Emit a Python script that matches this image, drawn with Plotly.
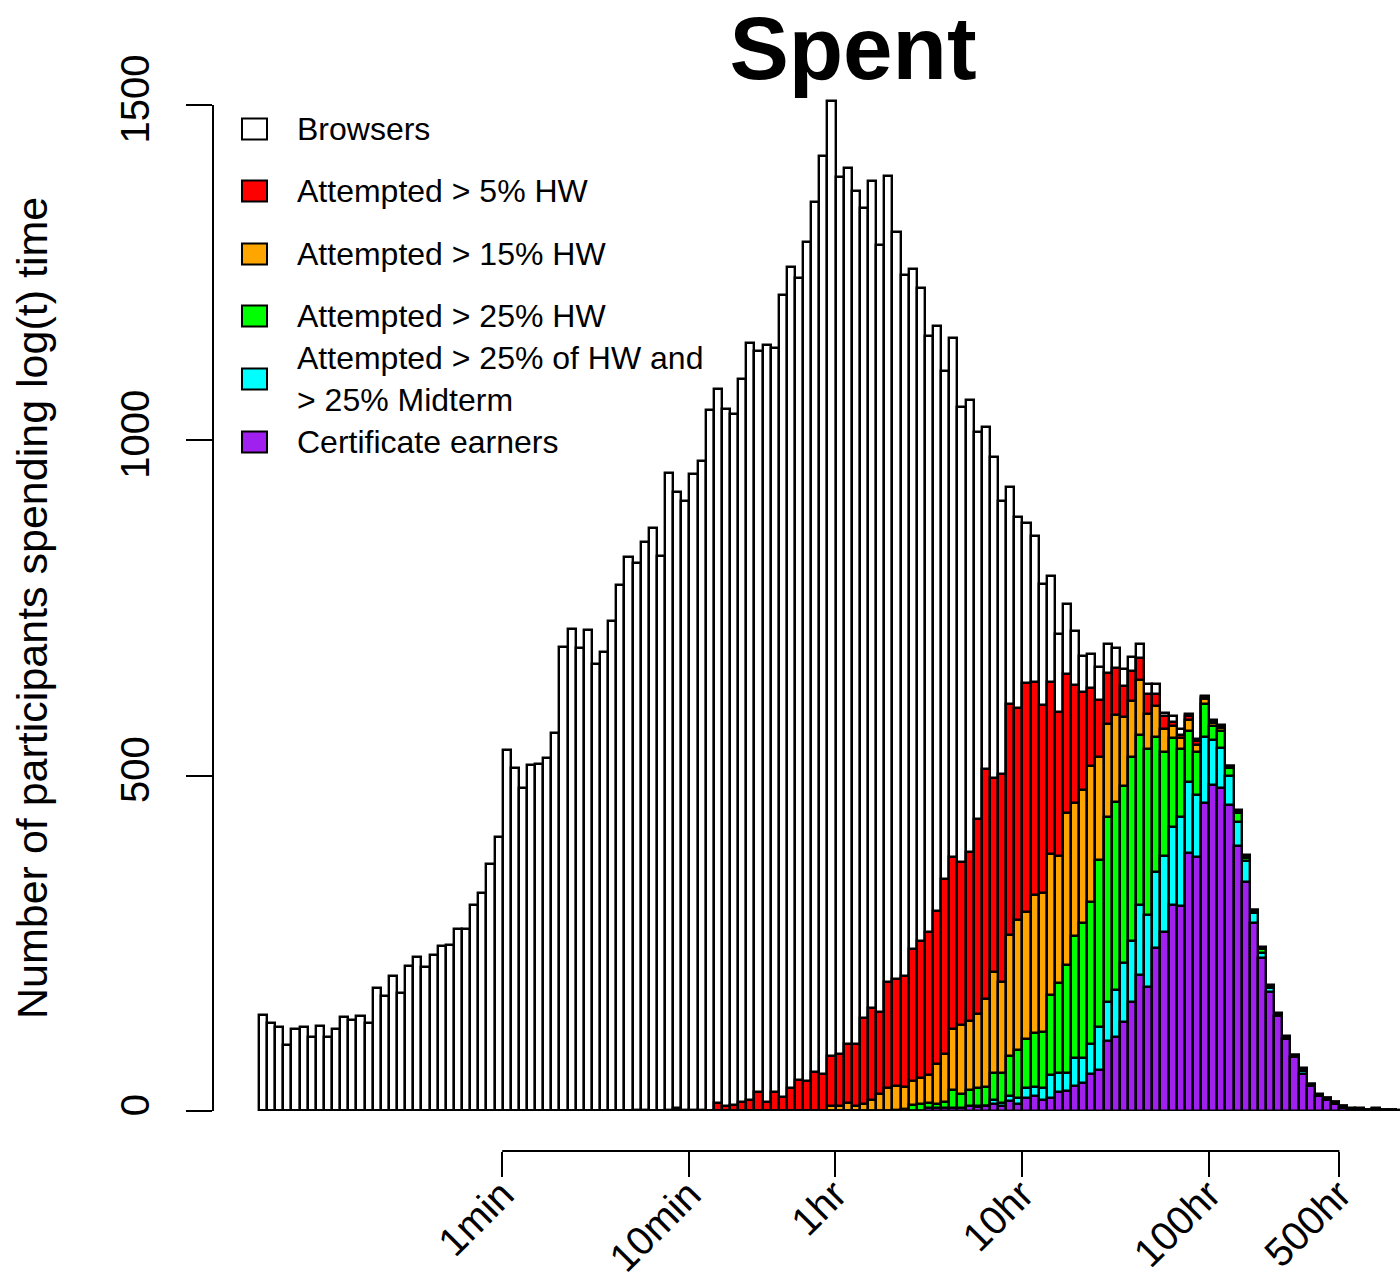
import numpy as np
import plotly.graph_objects as go

# Histogram of log(time spent): bins are 0.1 wide in natural-log seconds
bin_start = 1.1
bin_width = 0.1

browsers = [
    143, 131, 125, 99, 122, 126, 111, 127, 111, 123,
    140, 136, 142, 131, 184, 172, 201, 176, 216, 229,
    215, 232, 246, 247, 272, 272, 307, 325, 369, 408,
    538, 511, 482, 516, 518, 526, 564, 692, 719, 691,
    717, 666, 685, 731, 785, 826, 817, 849, 870, 828,
    951, 923, 910, 950, 969, 1045, 1077, 1047, 1040, 1092,
    1145, 1133, 1142, 1138, 1216, 1259, 1242, 1296, 1356, 1424,
    1506, 1392, 1406, 1372, 1346, 1386, 1291, 1394, 1310, 1247,
    1255, 1227, 1156, 1170, 1104, 1153, 1050, 1060, 1012, 1020,
    975, 909, 930, 886, 877, 858, 786, 798, 711, 756,
    715, 679, 682, 662, 696, 690, 659, 677, 697, 637,
    637, 594, 589, 569, 592, 554, 619, 583, 576, 515,
    449, 382, 300, 244, 188, 146, 112, 84, 64, 41,
    25, 20, 14, 8, 4, 4, 2, 4, 2, 2, 1,
]

hw5 = [
    0, 0, 0, 0, 0, 0, 0, 0, 0, 0,
    0, 0, 0, 0, 0, 0, 0, 0, 0, 0,
    0, 0, 0, 0, 0, 0, 0, 0, 0, 0,
    0, 0, 0, 0, 0, 0, 0, 0, 0, 0,
    0, 0, 0, 0, 0, 0, 1, 2, 0, 0,
    1, 4, 1, 1, 1, 0, 12, 7, 9, 14,
    16, 29, 13, 29, 21, 34, 46, 45, 58, 55,
    82, 85, 100, 100, 139, 153, 147, 192, 197, 202,
    241, 254, 267, 298, 346, 379, 372, 386, 435, 510,
    496, 503, 607, 601, 638, 640, 605, 639, 595, 652,
    635, 625, 630, 613, 653, 660, 634, 656, 676, 622,
    622, 589, 580, 561, 589, 551, 617, 581, 574, 514,
    447, 380, 299, 243, 187, 145, 111, 83, 63, 40,
    24, 19, 13, 7, 3, 3, 1, 3, 1, 1, 0,
]

hw15 = [
    0, 0, 0, 0, 0, 0, 0, 0, 0, 0,
    0, 0, 0, 0, 0, 0, 0, 0, 0, 0,
    0, 0, 0, 0, 0, 0, 0, 0, 0, 0,
    0, 0, 0, 0, 0, 0, 0, 0, 0, 0,
    0, 0, 0, 0, 0, 0, 0, 0, 0, 0,
    0, 0, 0, 0, 0, 0, 0, 0, 0, 0,
    0, 0, 0, 0, 0, 0, 0, 0, 0, 0,
    7, 7, 12, 7, 11, 17, 25, 35, 37, 36,
    45, 49, 53, 70, 85, 123, 128, 134, 144, 167,
    208, 192, 263, 285, 296, 322, 325, 383, 380, 444,
    459, 478, 514, 528, 577, 591, 588, 611, 643, 592,
    604, 569, 574, 556, 583, 545, 614, 579, 571, 513,
    446, 379, 298, 242, 186, 144, 110, 82, 62, 39,
    24, 19, 13, 7, 3, 3, 1, 3, 1, 1, 0,
]

hw25 = [
    0, 0, 0, 0, 0, 0, 0, 0, 0, 0,
    0, 0, 0, 0, 0, 0, 0, 0, 0, 0,
    0, 0, 0, 0, 0, 0, 0, 0, 0, 0,
    0, 0, 0, 0, 0, 0, 0, 0, 0, 0,
    0, 0, 0, 0, 0, 0, 0, 0, 0, 0,
    0, 0, 0, 0, 0, 0, 0, 0, 0, 0,
    0, 0, 0, 0, 0, 0, 0, 0, 0, 0,
    0, 0, 0, 0, 0, 0, 0, 0, 2, 3,
    9, 11, 12, 11, 14, 31, 25, 32, 35, 36,
    56, 57, 82, 91, 108, 117, 118, 173, 191, 218,
    261, 281, 311, 374, 439, 461, 485, 528, 561, 540,
    557, 536, 556, 540, 566, 536, 607, 574, 566, 511,
    444, 377, 297, 241, 186, 144, 110, 82, 62, 39,
    23, 18, 12, 6, 3, 3, 1, 3, 1, 1, 0,
]

hw25_midterm = [
    0, 0, 0, 0, 0, 0, 0, 0, 0, 0,
    0, 0, 0, 0, 0, 0, 0, 0, 0, 0,
    0, 0, 0, 0, 0, 0, 0, 0, 0, 0,
    0, 0, 0, 0, 0, 0, 0, 0, 0, 0,
    0, 0, 0, 0, 0, 0, 0, 0, 0, 0,
    0, 0, 0, 0, 0, 0, 0, 0, 0, 0,
    0, 0, 0, 0, 0, 0, 0, 0, 0, 0,
    0, 0, 0, 0, 0, 0, 0, 0, 0, 0,
    0, 0, 0, 0, 0, 0, 0, 5, 8, 8,
    17, 12, 22, 20, 34, 36, 35, 53, 56, 56,
    79, 79, 100, 126, 162, 181, 220, 254, 307, 292,
    357, 380, 424, 438, 491, 471, 558, 553, 542, 500,
    431, 373, 295, 236, 184, 143, 109, 81, 59, 38,
    23, 18, 12, 6, 3, 3, 1, 3, 1, 1, 0,
]

certificate = [
    0, 0, 0, 0, 0, 0, 0, 0, 0, 0,
    0, 0, 0, 0, 0, 0, 0, 0, 0, 0,
    0, 0, 0, 0, 0, 0, 0, 0, 0, 0,
    0, 0, 0, 0, 0, 0, 0, 0, 0, 0,
    0, 0, 0, 0, 0, 0, 0, 0, 0, 0,
    0, 0, 0, 0, 0, 0, 0, 0, 0, 0,
    0, 0, 0, 0, 0, 0, 0, 0, 0, 0,
    0, 0, 0, 0, 0, 0, 0, 0, 0, 0,
    0, 0, 5, 5, 5, 5, 4, 7, 6, 8,
    10, 8, 15, 11, 19, 22, 16, 20, 28, 30,
    38, 42, 55, 61, 104, 111, 132, 163, 203, 185,
    243, 267, 307, 306, 385, 378, 459, 486, 481, 456,
    395, 342, 281, 228, 177, 141, 107, 80, 55, 37,
    22, 16, 11, 5, 2, 3, 1, 3, 1, 1, 0,
]

series_names = [
    "Browsers",
    "Attempted > 5% HW",
    "Attempted > 15% HW",
    "Attempted > 25% HW",
    "Attempted > 25% of HW and<br>> 25% Midterm",
    "Certificate earners",
]
series_values = [browsers, hw5, hw15, hw25, hw25_midterm, certificate]
series_colors = ["#FFFFFF", "#FF0000", "#FFA500", "#00FF00", "#00FFFF", "#A020F0"]

tick_seconds = [60, 600, 3600, 36000, 360000, 1800000]
tick_labels = ["1min", "10min", "1hr", "10hr", "100hr", "500hr"]
y_ticks = [0, 500, 1000, 1500]

# ---- page geometry (pixels) ----
W, H = 1400, 1280
plot_left, plot_right = 213, 1400
plot_top, plot_bottom = 90, 1111
first_bar_px = 259
px_per_unit = 187.0 / np.log(10)      # pixels per unit of ln(seconds)
xaxis_px = 1151
FONT = "Liberation Sans, Arial, Helvetica, sans-serif"


def px_x(p):
    return p / W


def px_y(p):
    return 1 - p / H


x_lo = bin_start - (first_bar_px - plot_left) / px_per_unit
x_hi = bin_start + (plot_right - first_bar_px) / px_per_unit
y_hi = 1500 * (plot_bottom - plot_top) / (plot_bottom - 105)

centers = [bin_start + bin_width * (i + 0.5) for i in range(len(browsers))]

fig = go.Figure()
for name, vals, col in zip(series_names, series_values, series_colors):
    fig.add_trace(go.Bar(
        x=centers, y=vals, width=bin_width, name=name,
        marker=dict(color=col, line=dict(color="black", width=2.4)),
        opacity=1, showlegend=False,
    ))

tick_pos = [float(np.log(s)) for s in tick_seconds]

shapes = [
    # y axis line spanning the labelled range
    dict(type="line", xref="paper", yref="y",
         x0=px_x(plot_left), x1=px_x(plot_left), y0=0, y1=max(y_ticks),
         line=dict(color="black", width=2)),
    # x axis line spanning first to last tick
    dict(type="line", xref="x", yref="paper",
         x0=tick_pos[0], x1=tick_pos[-1], y0=px_y(xaxis_px), y1=px_y(xaxis_px),
         line=dict(color="black", width=2)),
]

annotations = [
    dict(text="Number of participants spending log(t) time",
         xref="paper", yref="paper", x=px_x(32), y=px_y(608),
         xanchor="center", yanchor="middle", textangle=-90, showarrow=False,
         font=dict(family=FONT, size=43, color="black")),
]

# legend drawn as filled boxes with labels
legend_rows = [129, 191, 254, 316, 379, 442]
for name, col, cy in zip(series_names, series_colors, legend_rows):
    shapes.append(dict(type="rect", xref="paper", yref="paper",
                       x0=px_x(242), x1=px_x(267),
                       y0=px_y(cy + 10.5), y1=px_y(cy - 10.5),
                       fillcolor=col, line=dict(color="black", width=2)))
    annotations.append(dict(text=name, xref="paper", yref="paper",
                            x=px_x(295), y=px_y(cy), xanchor="left", yanchor="middle",
                            align="left", showarrow=False,
                            font=dict(family=FONT, size=32, color="black")))

fig.update_layout(
    width=W, height=H, autosize=False,
    margin=dict(l=0, r=0, t=0, b=0, pad=0, autoexpand=False),
    paper_bgcolor="white", plot_bgcolor="white",
    barmode="overlay", bargap=0,
    title=dict(text="<b>Spent</b>", x=853 / W, xanchor="center",
               y=px_y(48), yanchor="middle", xref="paper", yref="paper",
               automargin=False,
               font=dict(family=FONT, size=89, color="black")),
    xaxis=dict(domain=[px_x(plot_left), px_x(plot_right)], range=[x_lo, x_hi],
               anchor="free", position=px_y(xaxis_px), automargin=False,
               tickmode="array", tickvals=tick_pos, ticktext=tick_labels,
               ticks="outside", ticklen=25, tickwidth=2, tickcolor="black",
               tickangle=-45, ticklabelstandoff=-22,
               tickfont=dict(family=FONT, size=40, color="black"),
               showline=False, showgrid=False, zeroline=False),
    yaxis=dict(domain=[px_y(plot_bottom), px_y(plot_top)], range=[0, y_hi],
               automargin=False,
               tickmode="array", tickvals=y_ticks,
               ticks="outside", ticklen=26, tickwidth=2, tickcolor="black",
               tickangle=-90, ticklabelstandoff=21,
               tickfont=dict(family=FONT, size=40, color="black"),
               showline=False, showgrid=False, zeroline=False),
    shapes=shapes,
    annotations=annotations,
)

fig.write_html("out.html")
